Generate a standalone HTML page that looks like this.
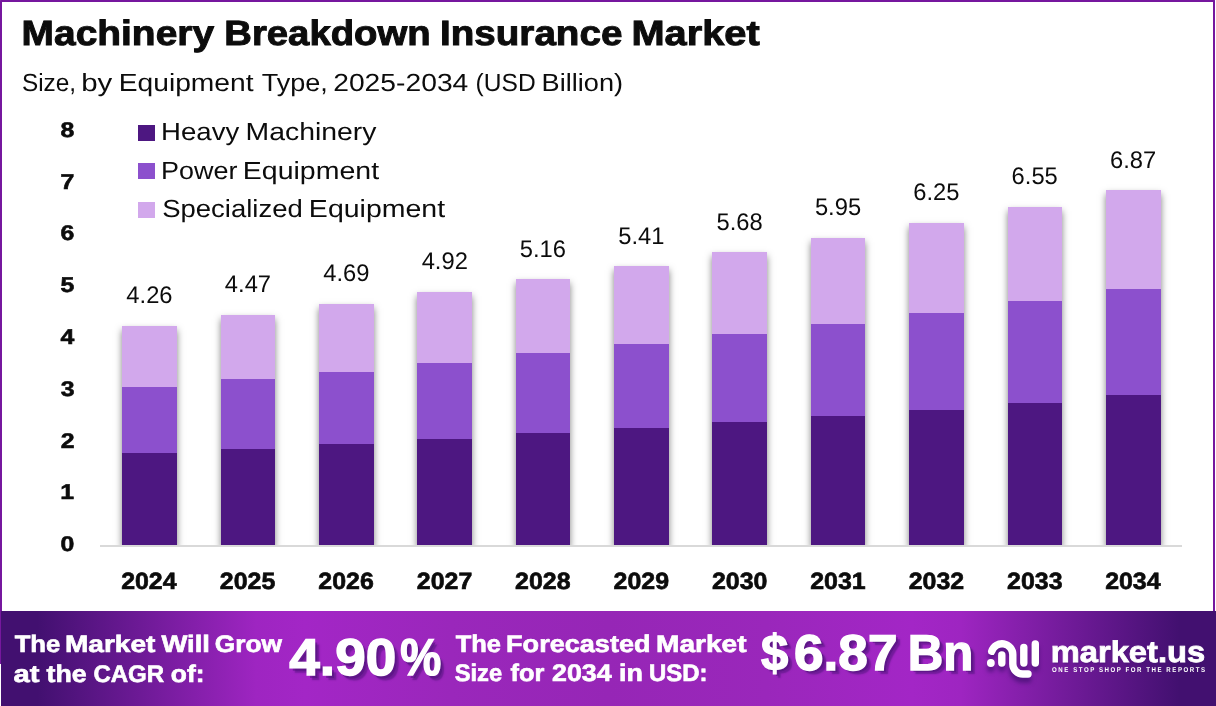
<!DOCTYPE html>
<html lang="en"><head><meta charset="utf-8"><title>Machinery Breakdown Insurance Market</title>
<style>
*{margin:0;padding:0;box-sizing:border-box}
html,body{width:1216px;height:706px;overflow:hidden;background:#fff}
body{position:relative;font-family:"Liberation Sans",sans-serif;color:#0c0c0c}
.frame{position:absolute;left:0;top:0;width:1215px;height:664px;border:2px solid #76179e;border-bottom:0;border-radius:1px 1px 0 0}
.t,.ln span{position:absolute;white-space:pre;line-height:1;transform-origin:0 0}
.ln{position:absolute;left:0;width:1216px;line-height:1;white-space:nowrap}
.ln span{top:0}
.title,.xl,.yl,.b1,.big,.brand,.tag{font-weight:700}
.sq{position:absolute;left:138px;width:17px;height:16px}
.plot{position:absolute;left:0;top:100px;width:1216px;height:445px;overflow:hidden}
.bar{position:absolute;margin-top:-100px;box-shadow:0 4px 7px rgba(0,0,0,.5)}
.axis{position:absolute;left:100px;top:545px;width:1082px;height:2px;background:#d9d9d9}
.vl{font-size:24.01px;}
.xl{font-size:23.54px;-webkit-text-stroke:0.64px currentColor;}
.yl{font-size:21.22px;-webkit-text-stroke:0.57px currentColor;}
.banner{position:absolute;left:1px;top:611px;width:1215px;height:95px;background:linear-gradient(90deg,#421070 3%,#9e25c1 21%,#a326c6 25%,#9a27bb 37%,#9626b6 50%,#9a27bb 63%,#a326c6 75%,#9e25c1 79%,#421070 97%)}
.sh{text-shadow:2.5px 2.5px .6px rgba(75,18,120,.5),4.5px 4.5px 1.5px rgba(75,18,120,.55)}
.brand.sh{text-shadow:1px 2px 2px rgba(66,16,112,.5)}
.logo{position:absolute;left:980px;top:632px;filter:drop-shadow(0 5px 2px rgba(66,16,112,.7))}
</style></head><body>
<div class="frame"></div>
<div class="ln title" style="top:14px;font-size:35.1px;-webkit-text-stroke:0.95px currentColor;"><span style="left:21px;transform:matrix(1.1096,0,0.0006,1.0000,0.54,0.82)">Machinery</span> <span style="left:224px;transform:matrix(1.0918,0,0.0006,1.0000,0.22,0.82)">Breakdown</span> <span style="left:439px;transform:matrix(1.1008,0,0.0006,1.0000,0.96,0.82)">Insurance</span> <span style="left:631px;transform:matrix(1.1349,0,0.0006,1.0000,0.39,0.82)">Market</span></div>
<div class="ln sub" style="top:71px;font-size:24.85px;"><span style="left:21px;transform:matrix(0.9802,0,0.0006,1.0000,0.95,0.00)">Size,</span> <span style="left:81px;transform:matrix(1.1846,0,0.0006,1.0000,0.16,0.00)">by</span> <span style="left:118px;transform:matrix(1.1358,0,0.0006,1.0000,0.68,0.00)">Equipment</span> <span style="left:261px;transform:matrix(1.0878,0,0.0006,1.0000,0.72,0.00)">Type,</span> <span style="left:333px;transform:matrix(1.1372,0,0.0006,1.0000,0.18,0.00)">2025-2034</span> <span style="left:475px;transform:matrix(0.9891,0,0.0006,1.0000,0.56,0.00)">(USD</span> <span style="left:541px;transform:matrix(1.0942,0,0.0006,1.0000,0.52,0.00)">Billion)</span></div>
<div class="ln lg" style="top:120px;font-size:24.71px;"><span style="left:161px;transform:matrix(1.1160,0,0.0006,1.0000,0.04,0.00)">Heavy</span> <span style="left:245px;transform:matrix(1.1496,0,0.0006,1.0000,0.47,0.00)">Machinery</span></div>
<div class="ln lg" style="top:158px;font-size:24.71px;"><span style="left:161px;transform:matrix(1.0917,0,0.0006,1.0000,0.09,0.70)">Power</span> <span style="left:242px;transform:matrix(1.1543,0,0.0006,1.0000,0.76,0.70)">Equipment</span></div>
<div class="ln lg" style="top:196px;font-size:24.71px;"><span style="left:162px;transform:matrix(1.1129,0,0.0006,1.0000,0.12,0.80)">Specialized</span> <span style="left:308px;transform:matrix(1.1535,0,0.0006,1.0000,0.86,0.80)">Equipment</span></div>
<div class="sq" style="top:125px;background:#4d1781"></div>
<div class="sq" style="top:163.4px;background:#8c50cd"></div>
<div class="sq" style="top:201.6px;background:#d2a8ec"></div>
<div class="t yl" style="left:60px;top:118px;transform:matrix(1.1715,0,0.0006,1.0000,0.56,0.80)">8</div>
<div class="t yl" style="left:60px;top:170px;transform:matrix(1.1715,0,0.0006,1.0000,0.56,0.60)">7</div>
<div class="t yl" style="left:60px;top:222px;transform:matrix(1.1715,0,0.0006,1.0000,0.56,0.40)">6</div>
<div class="t yl" style="left:60px;top:274px;transform:matrix(1.1715,0,0.0006,1.0000,0.56,0.20)">5</div>
<div class="t yl" style="left:60px;top:326px;transform:matrix(1.1715,0,0.0006,1.0000,0.51,0.00)">4</div>
<div class="t yl" style="left:60px;top:377px;transform:matrix(1.1715,0,0.0006,1.0000,0.75,0.80)">3</div>
<div class="t yl" style="left:60px;top:429px;transform:matrix(1.1715,0,0.0006,1.0000,0.65,0.60)">2</div>
<div class="t yl" style="left:60px;top:481px;transform:matrix(1.1715,0,0.0006,1.0000,0.12,0.40)">1</div>
<div class="t yl" style="left:60px;top:533px;transform:matrix(1.1715,0,0.0006,1.0000,0.61,0.20)">0</div>
<div class="plot">
<div class="bar" style="left:122px;width:55px;top:326.08px;height:218.92px;background:linear-gradient(#d2a8ec 61.36px,#8c50cd 61.36px,#8c50cd 127.37px,#4d1781 127.37px)"></div>
<div class="bar" style="left:221px;width:54px;top:315.16px;height:229.84px;background:linear-gradient(#d2a8ec 64.39px,#8c50cd 64.39px,#8c50cd 133.65px,#4d1781 133.65px)"></div>
<div class="bar" style="left:319px;width:55px;top:303.72px;height:241.28px;background:linear-gradient(#d2a8ec 67.55px,#8c50cd 67.55px,#8c50cd 140.23px,#4d1781 140.23px)"></div>
<div class="bar" style="left:417px;width:55px;top:291.76px;height:253.24px;background:linear-gradient(#d2a8ec 70.87px,#8c50cd 70.87px,#8c50cd 147.11px,#4d1781 147.11px)"></div>
<div class="bar" style="left:516px;width:54px;top:279.28px;height:265.72px;background:linear-gradient(#d2a8ec 74.32px,#8c50cd 74.32px,#8c50cd 154.28px,#4d1781 154.28px)"></div>
<div class="bar" style="left:614px;width:55px;top:266.28px;height:278.72px;background:linear-gradient(#d2a8ec 77.93px,#8c50cd 77.93px,#8c50cd 161.76px,#4d1781 161.76px)"></div>
<div class="bar" style="left:712px;width:55px;top:252.24px;height:292.76px;background:linear-gradient(#d2a8ec 81.81px,#8c50cd 81.81px,#8c50cd 169.83px,#4d1781 169.83px)"></div>
<div class="bar" style="left:811px;width:54px;top:238.2px;height:306.8px;background:linear-gradient(#d2a8ec 85.7px,#8c50cd 85.7px,#8c50cd 177.91px,#4d1781 177.91px)"></div>
<div class="bar" style="left:909px;width:55px;top:222.6px;height:322.4px;background:linear-gradient(#d2a8ec 90.02px,#8c50cd 90.02px,#8c50cd 186.88px,#4d1781 186.88px)"></div>
<div class="bar" style="left:1008px;width:54px;top:207px;height:338px;background:linear-gradient(#d2a8ec 94.35px,#8c50cd 94.35px,#8c50cd 195.84px,#4d1781 195.84px)"></div>
<div class="bar" style="left:1106px;width:55px;top:190.36px;height:354.64px;background:linear-gradient(#d2a8ec 98.96px,#8c50cd 98.96px,#8c50cd 205.41px,#4d1781 205.41px)"></div>
</div>
<div class="axis"></div>
<div class="t vl" style="left:126px;top:283px;transform:matrix(0.9892,0,0.0006,1.0000,0.34,0.34)">4.26</div>
<div class="t xl" style="left:121px;top:569px;transform:matrix(1.0595,0,0.0006,1.0000,0.13,0.74)">2024</div>
<div class="t vl" style="left:224px;top:272px;transform:matrix(0.9892,0,0.0006,1.0000,0.83,0.42)">4.47</div>
<div class="t xl" style="left:219px;top:569px;transform:matrix(1.0595,0,0.0006,1.0000,0.78,0.74)">2025</div>
<div class="t vl" style="left:323px;top:260px;transform:matrix(0.9892,0,0.0006,1.0000,0.18,0.98)">4.69</div>
<div class="t xl" style="left:318px;top:569px;transform:matrix(1.0595,0,0.0006,1.0000,0.28,0.74)">2026</div>
<div class="t vl" style="left:421px;top:249px;transform:matrix(0.9892,0,0.0006,1.0000,0.63,0.02)">4.92</div>
<div class="t xl" style="left:416px;top:569px;transform:matrix(1.0595,0,0.0006,1.0000,0.77,0.74)">2027</div>
<div class="t vl" style="left:519px;top:236px;transform:matrix(0.9892,0,0.0006,1.0000,0.70,0.54)">5.16</div>
<div class="t xl" style="left:515px;top:569px;transform:matrix(1.0595,0,0.0006,1.0000,0.03,0.74)">2028</div>
<div class="t vl" style="left:618px;top:223px;transform:matrix(0.9892,0,0.0006,1.0000,0.20,0.54)">5.41</div>
<div class="t xl" style="left:613px;top:569px;transform:matrix(1.0595,0,0.0006,1.0000,0.52,0.74)">2029</div>
<div class="t vl" style="left:716px;top:209px;transform:matrix(0.9892,0,0.0006,1.0000,0.50,0.50)">5.68</div>
<div class="t xl" style="left:711px;top:569px;transform:matrix(1.0595,0,0.0006,1.0000,0.97,0.74)">2030</div>
<div class="t vl" style="left:814px;top:195px;transform:matrix(0.9892,0,0.0006,1.0000,0.90,0.46)">5.95</div>
<div class="t xl" style="left:810px;top:569px;transform:matrix(1.0595,0,0.0006,1.0000,0.18,0.74)">2031</div>
<div class="t vl" style="left:913px;top:179px;transform:matrix(0.9892,0,0.0006,1.0000,0.17,0.86)">6.25</div>
<div class="t xl" style="left:908px;top:569px;transform:matrix(1.0595,0,0.0006,1.0000,0.72,0.74)">2032</div>
<div class="t vl" style="left:1011px;top:164px;transform:matrix(0.9892,0,0.0006,1.0000,0.57,0.26)">6.55</div>
<div class="t xl" style="left:1007px;top:569px;transform:matrix(1.0595,0,0.0006,1.0000,0.08,0.74)">2033</div>
<div class="t vl" style="left:1110px;top:147px;transform:matrix(0.9892,0,0.0006,1.0000,0.06,0.62)">6.87</div>
<div class="t xl" style="left:1105px;top:569px;transform:matrix(1.0595,0,0.0006,1.0000,0.13,0.74)">2034</div>
<div class="banner"></div>
<svg class="logo" width="70" height="60" viewBox="980 632 70 60">
<g fill="none" stroke="#fff" stroke-width="7.4" stroke-linecap="round">
<path d="M991.7 651.3 A10.8 10.8 0 0 1 1012.8 654.7 L1012.8 664 A10 10 0 0 0 1022.8 674 L1028 674"/>
<path d="M1001.8 654.9 L1001.8 663"/>
<path d="M1023.8 647.5 L1023.8 663"/>
<path d="M1035.3 643.9 L1035.3 663"/>
</g>
<circle cx="990.85" cy="663" r="3.9" fill="#fff"/>
</svg>
<div class="ln b1" style="top:631px;font-size:23.78px;color:#fff;-webkit-text-stroke:0.64px currentColor;"><span style="left:14px;transform:matrix(1.0798,0,0.0006,1.0000,0.64,0.58)">The</span> <span style="left:64px;transform:matrix(1.1813,0,0.0006,1.0000,0.91,0.58)">Market</span> <span style="left:161px;transform:matrix(1.1557,0,0.0006,1.0000,0.37,0.58)">Will</span> <span style="left:214px;transform:matrix(1.1062,0,0.0006,1.0000,0.73,0.58)">Grow</span></div>
<div class="ln b1" style="top:661px;font-size:24.06px;color:#fff;-webkit-text-stroke:0.65px currentColor;"><span style="left:13px;transform:matrix(1.2138,0,0.0006,1.0000,0.40,0.57)">at</span> <span style="left:46px;transform:matrix(1.1130,0,0.0006,1.0000,0.55,0.57)">the</span> <span style="left:93px;transform:matrix(0.9987,0,0.0006,1.0000,0.39,0.57)">CAGR</span> <span style="left:170px;transform:matrix(1.0941,0,0.0006,1.0000,0.83,0.57)">of:</span></div>
<div class="ln big sh" style="top:632px;font-size:51.75px;color:#fff;-webkit-text-stroke:1.4px currentColor;"><span style="left:289px;transform:matrix(1.0612,0,0.0006,1.0000,0.30,0.30)">4.90</span><span style="left:400px;transform:matrix(0.8916,0,0.0006,1.0000,0.14,0.30)">%</span></div>
<div class="ln b1" style="top:631px;font-size:24.06px;color:#fff;-webkit-text-stroke:0.65px currentColor;"><span style="left:455px;transform:matrix(1.0601,0,0.0006,1.0000,0.65,0.77)">The</span> <span style="left:506px;transform:matrix(1.1260,0,0.0006,1.0000,0.07,0.77)">Forecasted</span> <span style="left:656px;transform:matrix(1.1682,0,0.0006,1.0000,0.01,0.77)">Market</span></div>
<div class="ln b1" style="top:661px;font-size:24.06px;color:#fff;-webkit-text-stroke:0.65px currentColor;"><span style="left:454px;transform:matrix(0.9874,0,0.0006,1.0000,0.67,0.38)">Size</span> <span style="left:510px;transform:matrix(1.0545,0,0.0006,1.0000,0.45,0.38)">for</span> <span style="left:552px;transform:matrix(1.1118,0,0.0006,1.0000,0.03,0.38)">2034</span> <span style="left:619px;transform:matrix(1.1191,0,0.0006,1.0000,0.08,0.38)">in</span> <span style="left:648px;transform:matrix(0.9951,0,0.0006,1.0000,0.92,0.38)">USD:</span></div>
<div class="ln big sh" style="top:627px;font-size:50.35px;color:#fff;-webkit-text-stroke:1.36px currentColor;"><span style="left:760px;transform:matrix(0.9748,0,0.0006,1.0000,0.99,0.92)">$</span><span style="left:793px;transform:matrix(1.0560,0,0.0006,1.0000,0.95,0.92)">6.87</span><span style="left:894px;transform:matrix(0.9773,0,0.0006,1.0000,0.03,0.92)"> Bn</span></div>
<div class="ln brand sh" style="top:637px;font-size:29.91px;color:#fff;-webkit-text-stroke:0.81px currentColor;"><span style="left:1050px;transform:matrix(1.0932,0,0.0006,1.0000,0.70,0.30)">market.us</span></div>
<div class="ln tag" style="top:666px;font-size:6.98px;color:#fff;letter-spacing:1.75px;"><span style="left:1052px;transform:matrix(0.8771,0,0.0006,1.0000,0.06,0.10)">ONE STOP SHOP FOR THE REPORTS</span></div>
</body></html>
